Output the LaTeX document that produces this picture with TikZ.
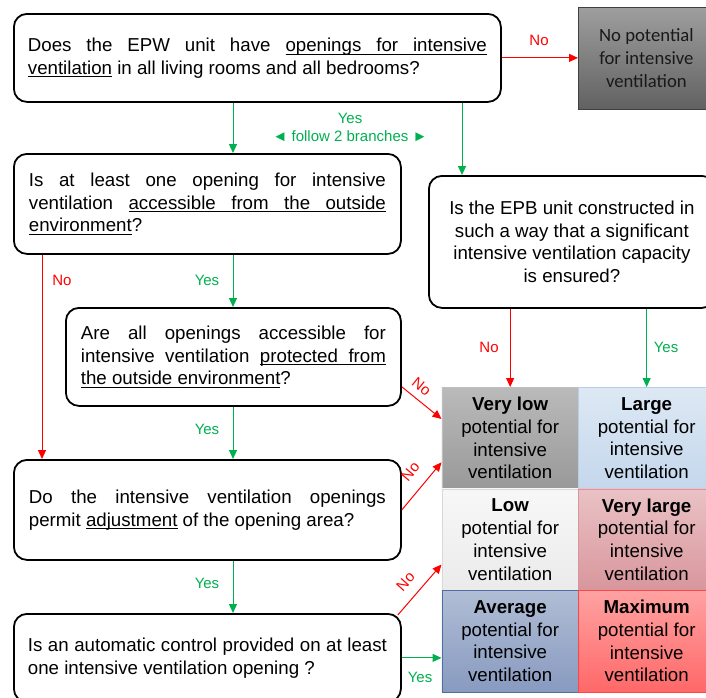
\documentclass[tikz,border=0pt]{standalone}
\usepackage{fontspec}
\setmainfont{Liberation Sans}
\newfontfamily\carlito{Carlito}
\usetikzlibrary{arrows.meta,calc}
\tolerance=10000
\hbadness=10000
\newsavebox\uwbox
\newcommand\uw[1]{\sbox\uwbox{#1}\rlap{\vrule height -2.3pt depth 3.2pt width \wd\uwbox}\usebox\uwbox}
\newcommand\us{\leaders\hrule height -2.3pt depth 3.2pt\hskip\fontdimen2\font plus \fontdimen3\font minus \fontdimen4\font\relax}
\definecolor{ygreen}{HTML}{00B050}
\definecolor{nred}{HTML}{FF0000}
\begin{document}
\begin{tikzpicture}[x=1pt,y=-1pt,
  q/.style={draw=black, line width=1.8pt, rounded corners=13pt, fill=white, anchor=north west,
            inner sep=0pt, font=\fontsize{18.7}{22.7}\selectfont},
  cell/.style={anchor=north west, minimum width=136.5pt, minimum height=101.5pt, inner sep=0pt,
               align=center, font=\fontsize{18.7}{22.7}\selectfont, line width=0.8pt},
  lab/.style={font=\fontsize{15}{18}\selectfont, inner sep=1pt},
  yesarr/.style={draw=ygreen, line width=1pt, -{Triangle[length=9pt,width=8pt]}},
  noarr/.style={draw=nred, line width=1pt, -{Triangle[length=9pt,width=8pt]}},
]
\useasboundingbox (0,0) rectangle (706,697);
\clip (0,0) rectangle (706,697);

% question boxes
\node[q, minimum width=487pt, minimum height=88pt] (q1) at (13,13)
  {\parbox{459pt}{Does the EPW unit have \uw{openings}\us\uw{for}\us\uw{intensive}\linebreak
   \uw{ventilation} in all living rooms and all bedrooms?}};
\node[q, minimum width=387pt, minimum height=100pt] (q2) at (13,153)
  {\parbox{357pt}{Is at least one opening for intensive\linebreak
   ventilation \uw{accessible}\us\uw{from}\us\uw{the}\us\uw{outside}\linebreak \uw{environment}?}};
\node[q, minimum width=335pt, minimum height=98pt] (q3) at (65,307)
  {\parbox{305pt}{Are all openings accessible for\linebreak
   intensive ventilation \uw{protected}\us\uw{from}\linebreak \uw{the outside environment}?}};
\node[q, minimum width=387pt, minimum height=100pt] (q4) at (13,459)
  {\parbox{357pt}{Do the intensive ventilation openings\linebreak
   permit \uw{adjustment} of the opening area?}};
\node[q, minimum width=387pt, minimum height=88pt] (q5) at (13,613)
  {\parbox{359pt}{Is an automatic control provided on at least\linebreak
   one intensive ventilation opening ?}};
\node[q, minimum width=286pt, minimum height=132pt, align=center] (epb) at (428,175)
  {Is the EPB unit constructed in\\such a way that a significant\\intensive ventilation capacity\\is ensured?};

% no potential box
\node[anchor=north west, minimum width=136pt, minimum height=102pt, inner sep=0pt,
      draw=black!75, line width=0.8pt, top color=black!38, bottom color=black!62,
      align=center, font=\carlito\fontsize{18.7}{23}\selectfont, text=black!90] (nopot) at (578,7)
  {No potential\\for intensive\\ventilation};

% result grid
\node[cell, draw=black!25, top color=black!27, bottom color=black!40] (verylow) at (441.5,387)
  {\textbf{Very low}\\potential for\\intensive\\ventilation};
\node[cell, draw=black!15, top color=black!3, bottom color=black!8] (low) at (441.5,488.5)
  {\textbf{Low}\\potential for\\intensive\\ventilation};
\node[cell, draw={rgb,255:red,80;green,110;blue,160}, top color={rgb,255:red,176;green,189;blue,213},
      bottom color={rgb,255:red,136;green,154;blue,192}] (average) at (441.5,590)
  {\textbf{Average}\\potential for\\intensive\\ventilation};
\node[cell, draw={rgb,255:red,185;green,205;blue,228}, top color={rgb,255:red,221;green,232;blue,244},
      bottom color={rgb,255:red,196;green,215;blue,236}] (large) at (578,387)
  {\textbf{Large}\\potential for\\intensive\\ventilation};
\node[cell, draw={rgb,255:red,215;green,150;blue,155}, top color={rgb,255:red,234;green,194;blue,197},
      bottom color={rgb,255:red,216;green,150;blue,156}] (verylarge) at (578,488.5)
  {\textbf{Very large}\\potential for\\intensive\\ventilation};
\node[cell, draw={rgb,255:red,255;green,70;blue,70}, top color={rgb,255:red,255;green,162;blue,162},
      bottom color={rgb,255:red,255;green,104;blue,104}] (maximum) at (578,590)
  {\textbf{Maximum}\\potential for\\intensive\\ventilation};

% column coordinates
\coordinate (cA) at (233,0);
\coordinate (cB) at (462,0);
\coordinate (cC) at (42,0);

% connectors
\draw[noarr] (q1.east) -- (q1.east -| nopot.west);
\draw[yesarr] (q1.south -| cA) -- (q2.north -| cA);
\draw[yesarr] (q1.south -| cB) -- (epb.north -| cB);
\draw[noarr] (q2.south -| cC) -- (q4.north -| cC);
\draw[yesarr] (q2.south -| cA) -- (q3.north -| cA);
\draw[yesarr] (q3.south -| cA) -- (q4.north -| cA);
\draw[yesarr] (q4.south -| cA) -- (q5.north -| cA);
\draw[noarr] (epb.south -| verylow.north) -- (verylow.north);
\draw[yesarr] (epb.south -| large.north) -- (large.north);
\draw[noarr] ($(q3.south east)+(0,-20)$) -- ($(verylow.north west)+(0,32)$);
\draw[noarr] (q4.east) -- ($(verylow.south west)+(0,-27)$);
\draw[noarr] ($(q5.north east)+(-4,2)$) -- ($(low.north west)+(0,76)$);
\draw[yesarr] (q5.east) -- (q5.east -| average.west);

% labels
\node[lab, text=nred] (l1) at (539,40) {No};
\node[lab, text=ygreen] (l2) at (350,118) {Yes};
\node[lab, text=ygreen] (l3) at (350,136.5) {◄ follow 2 branches ►};
\node[lab, text=nred] (l4) at (62,280) {No};
\node[lab, text=ygreen] (l5) at (207,280) {Yes};
\node[lab, text=ygreen] (l6) at (207,429) {Yes};
\node[lab, text=ygreen] (l7) at (207,583) {Yes};
\node[lab, text=nred] (l8) at (489,347) {No};
\node[lab, text=ygreen] (l9) at (666,347) {Yes};
\node[lab, text=nred, rotate=-39, inner sep=0pt] (l10) at (421.5,386.5) {No};
\node[lab, text=nred, rotate=50, inner sep=0pt] (l11) at (410.5,471.5) {No};
\node[lab, text=nred, rotate=48, inner sep=0pt] (l12) at (405.5,581.5) {No};
\node[lab, text=ygreen] (l13) at (420,677) {Yes};
\end{tikzpicture}
\end{document}
